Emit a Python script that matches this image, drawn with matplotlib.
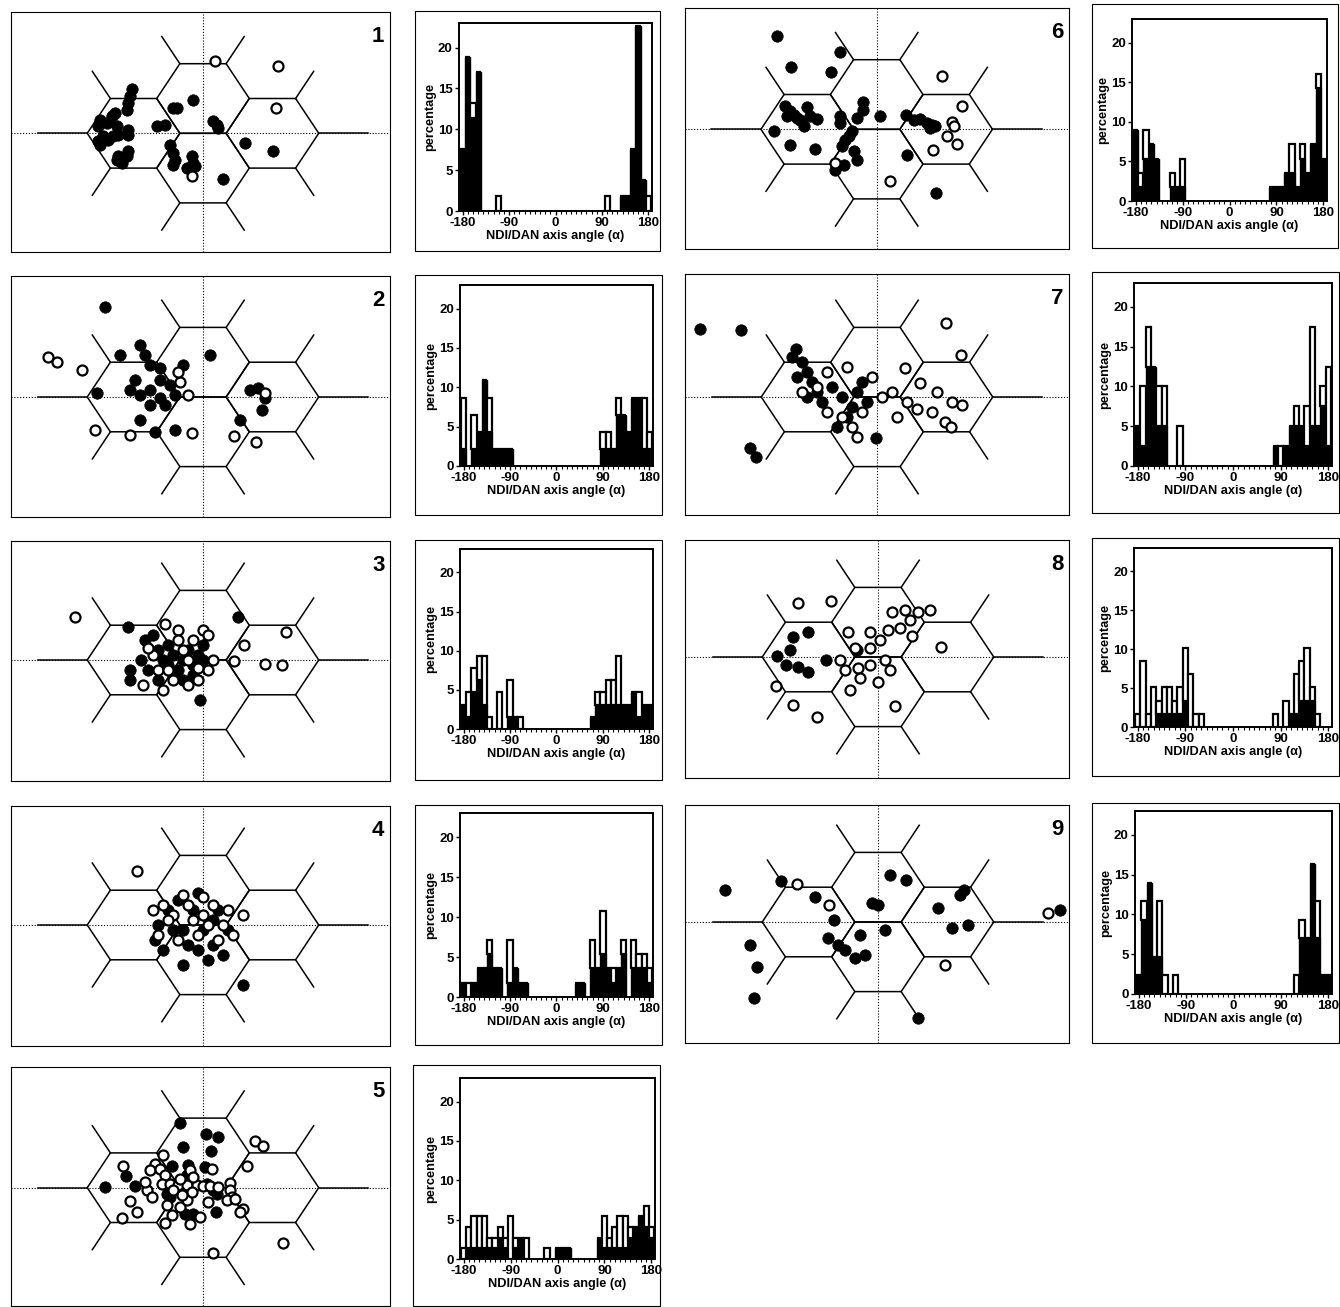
import matplotlib
matplotlib.use('Agg')
import matplotlib.pyplot as plt
from matplotlib.patches import Rectangle, Polygon
import numpy as np

plt.rcParams['font.family'] = ['Liberation Sans', 'DejaVu Sans']

# ---------------- DATA ----------------
# scatter maps: positions relative to the hexagon-cluster centre (map units, y up)
p1_filled = [(-71,44),(-73,37),(-75,30),(-76,23),(-88,20),(-91,17),(-103,13),(-105,7),(-96,10),(-86,7),
             (-75,3),(-75,-2),(-85,-2),(-90,-3),(-100,-3),(-105,-8),(-103,-12),(-95,-7),(-75,-18),(-76,-23),
             (-85,-23),(-86,-27),(-81,-30),(-10,33),(-30,25),(-26,25),(-46,7),(-38,8),(10,12),(14,8),(15,5),
             (-33,-12),(-30,-20),(-28,-27),(-30,-32),(-16,-35),(-11,-23),(-10,-30),(-8,-33),(20,-46),(42,-10),(70,-18)]
p1_open = [(12,72),(75,67),(73,25),(-11,-43)]

p2_filled = [(-98,90),(-106,4),(-83,42),(-63,52),(-58,42),(-53,32),(-43,29),(-68,17),(-73,7),(-63,2),(-53,7),
             (-43,17),(-33,12),(-28,2),(-38,-8),(-53,-8),(-63,-23),(-48,-35),(-28,-33),(-43,-1),(7,42),(37,-23),
             (47,7),(55,9),(59,-13),(62,-1),(-20,32)]
p2_open = [(-155,40),(-146,35),(-121,27),(-108,-33),(-73,-38),(-23,15),(-15,2),(-11,-36),(31,-39),(53,-45),(62,4),(-25,25)]

p3_filled = [(-75,33),(35,43),(-3,-40),(-73,-10),(-73,-20),(-58,20),(-50,25),(-45,10),(-40,0),(-35,-5),(-30,5),
             (-25,-10),(-20,0),(-15,10),(-10,-5),(-5,5),(0,0),(-20,-20),(-30,-15),(-10,-15),(-45,-20),(0,15),
             (-62,0),(-55,-10),(-35,15)]
p3_open = [(-128,43),(83,28),(62,-4),(79,-5),(31,-1),(41,15),(-38,36),(-25,30),(0,30),(5,25),(-60,-25),(-40,-30),
           (-50,5),(-45,-10),(-30,-20),(-15,-25),(-5,-20),(5,-10),(-15,0),(-25,20),(-10,20),(10,0),(-55,12),
           (-35,-10),(-20,10),(-5,-8)]

p4_filled = [(-40,-25),(-48,-15),(-45,0),(-35,15),(-25,25),(-5,32),(-20,-5),(0,-5),(10,5),(15,15),(-10,15),
             (25,-5),(10,-20),(-5,-25),(-20,-40),(20,-30),(40,-60),(-30,-5),(-15,-20),(5,-35)]
p4_open = [(-66,54),(40,10),(-50,15),(-40,20),(-20,30),(0,28),(10,20),(25,15),(-30,10),(-10,5),(5,0),(20,0),
           (30,-10),(-45,-10),(-25,-15),(-5,-10),(15,-15),(-35,5),(-15,20),(0,10)]

p5_filled = [(-23,65),(3,54),(15,51),(-20,41),(8,37),(-98,1),(-77,12),(-68,2),(-31,22),(-15,23),(2,21),(-36,-6),
             (-33,-9),(4,4),(10,-2),(14,-6),(-18,-26),(-10,-26),(13,-24),(-16,13)]
p5_open = [(52,47),(60,42),(44,22),(-80,22),(-81,-30),(-66,-24),(-73,-13),(-56,-2),(-51,-9),(-40,33),(-48,24),
           (-53,18),(-43,19),(-38,13),(-58,6),(-41,4),(-33,4),(-25,3),(-16,3),(-6,3),(0,2),(7,2),(15,1),(27,5),
           (27,-2),(29,-9),(24,-12),(32,-11),(40,-21),(37,-24),(5,-14),(-36,-17),(-31,-27),(-38,-35),(-23,-19),
           (-16,-12),(-11,-4),(-13,18),(-21,-7),(-3,-29),(-13,-36),(10,-65),(80,-55),(9,19),(-23,9),(-10,11),(-30,-2)]

p6_filled = [(-100,93),(-37,77),(-86,62),(-46,57),(-92,23),(-87,18),(-83,14),(-80,11),(-90,13),(-77,9),(-70,22),
             (-67,13),(-60,10),(-73,3),(-103,-2),(-87,-16),(-62,-20),(-37,13),(-37,6),(-14,27),(-14,19),(-20,11),
             (3,13),(29,14),(37,9),(43,10),(50,6),(55,4),(58,3),(53,1),(-25,-2),(-28,-7),(-32,-11),(-35,-17),
             (-23,-22),(-20,-31),(-42,-41),(-33,-36),(30,-26),(59,-64)]
p6_open = [(65,53),(85,23),(75,7),(77,3),(70,-7),(80,-15),(56,-21),(13,-52),(-42,-34)]

p7_filled = [(-177,68),(-136,67),(-127,-51),(-121,-60),(-81,48),(-1,-41),(-85,40),(-75,35),(-70,25),(-80,20),
             (-65,15),(-60,5),(-70,0),(-55,-5),(-45,10),(-35,0),(-25,-10),(-20,5),(-15,15),(-30,-20),(-40,-30),(-10,-5)]
p7_open = [(69,74),(84,42),(28,29),(43,14),(60,5),(75,-5),(85,-8),(55,-15),(68,-25),(30,-5),(15,5),(-5,20),(5,0),
           (-15,-15),(-25,-30),(-20,-40),(-35,-20),(-50,-15),(-60,10),(-75,5),(-50,25),(-30,30),(20,-20),(40,-12),(74,-30)]

p8_filled = [(-101,1),(-88,7),(-85,20),(-70,25),(-92,-8),(-80,-10),(-70,-15),(-52,-3),(-21,7)]
p8_open = [(-80,54),(-47,56),(-102,-29),(-85,-48),(-61,-60),(17,-49),(63,10),(-30,25),(-8,25),(14,45),(27,47),
           (40,45),(52,47),(32,37),(22,29),(10,27),(34,21),(2,17),(-8,9),(-23,9),(-38,-3),(-33,-13),(-20,-11),
           (-8,-8),(7,-3),(12,-13),(0,-25),(-18,-21),(-28,-33)]

p9_filled = [(-153,32),(-97,41),(-63,25),(-44,2),(-18,-13),(12,47),(28,42),(60,14),(74,-6),(82,27),(86,32),
             (90,-3),(-128,-23),(-121,-45),(-124,-76),(40,-96),(182,12),(-6,19),(0,17),(7,-8),(-13,-33),(-23,-36),
             (-50,-16),(-40,-23),(-33,-28)]
p9_open = [(-81,38),(-49,17),(67,-43),(170,9)]

scatter_filled = [p1_filled, p2_filled, p3_filled, p4_filled, p5_filled, p6_filled, p7_filled, p8_filled, p9_filled]
scatter_open = [p1_open, p2_open, p3_open, p4_open, p5_open, p6_open, p7_open, p8_open, p9_open]

# histograms: NDI/DAN axis angle bins (deg), counts of all cells / of filled cells, % per cell
h1_bins = [-180,-170,-160,-150,-110,100,130,140,150,160,170,180]
h1_total = [4,10,7,9,1,1,1,1,4,12,2,1]
h1_black = [4,10,6,9,0,0,1,1,4,12,2,0]
h1_unit = 100/53

h2_bins = [-180,-160,-150,-140,-130,-120,-110,-100,-90,90,100,110,120,130,140,150,160,170,180]
h2_total = [4,3,2,5,4,1,1,1,1,2,2,1,4,3,2,4,4,4,2]
h2_black = [1,1,2,5,2,1,1,1,1,1,1,1,3,3,2,4,4,1,1]
h2_unit = 100/46

h3_bins = [-180,-170,-160,-150,-140,-130,-110,-90,-80,-70,70,80,90,100,110,120,130,140,150,160,170,180]
h3_total = [2,3,5,6,6,1,3,4,1,1,1,3,3,4,4,6,2,2,3,3,2,2]
h3_black = [2,1,3,4,2,0,0,1,1,0,1,2,2,2,2,2,2,2,3,1,2,2]
h3_unit = 100/64

h4_bins = [-180,-170,-160,-150,-140,-130,-120,-110,-90,-80,-70,-60,40,50,70,80,90,100,110,120,130,150,160,170,180]
h4_total = [1,1,1,2,2,4,2,2,4,2,1,1,1,1,4,2,6,2,2,2,4,4,3,3,2]
h4_black = [1,0,1,2,2,3,2,2,1,2,1,1,1,1,2,2,3,2,1,2,3,2,2,2,1]
h4_unit = 100/56

h5_bins = [-180,-170,-160,-150,-140,-130,-120,-110,-100,-90,-80,-70,-60,-20,0,10,20,80,90,100,110,120,130,140,150,160,170,180]
h5_total = [1,3,4,4,4,2,2,3,2,4,2,2,2,1,1,1,1,2,4,2,3,4,4,3,3,4,5,3]
h5_black = [0,1,1,1,1,1,1,2,1,0,1,2,0,0,1,1,1,2,1,1,1,1,1,2,3,4,3,2]
h5_unit = 100/74

h6_bins = [-180,-170,-160,-150,-140,-110,-100,-90,80,90,100,110,120,130,140,150,160,170,180]
h6_total = [5,2,5,4,3,2,1,3,1,1,1,2,4,1,4,2,4,9,3]
h6_black = [5,1,3,4,3,1,1,1,1,1,1,2,2,1,3,2,4,8,3]
h6_unit = 100/56

h7_bins = [-180,-170,-160,-150,-140,-130,-100,80,90,100,110,120,130,140,150,160,170,180]
h7_total = [2,4,7,5,4,4,2,1,1,1,2,3,2,3,7,2,4,5]
h7_black = [2,1,5,5,2,2,0,1,0,1,2,2,2,1,2,2,3,1]
h7_unit = 100/40

h8_bins = [-180,-170,-160,-150,-140,-130,-120,-110,-100,-90,-80,-70,-60,80,100,110,120,130,140,150,160]
h8_total = [1,5,1,3,2,3,3,2,3,6,4,1,1,1,2,1,4,5,6,3,1]
h8_black = [0,0,0,0,1,1,1,1,1,2,0,0,0,0,0,1,1,2,2,2,0]
h8_unit = 100/59

h9_bins = [-180,-170,-160,-150,-140,-130,-110,120,130,140,150,160,170,180]
h9_total = [1,5,6,2,5,1,1,1,4,3,7,5,1,1]
h9_black = [1,4,6,2,2,0,0,0,3,3,7,3,1,1]
h9_unit = 100/43

hist_bins = [h1_bins, h2_bins, h3_bins, h4_bins, h5_bins, h6_bins, h7_bins, h8_bins, h9_bins]
hist_total = [h1_total, h2_total, h3_total, h4_total, h5_total, h6_total, h7_total, h8_total, h9_total]
hist_black = [h1_black, h2_black, h3_black, h4_black, h5_black, h6_black, h7_black, h8_black, h9_black]
hist_unit = [h1_unit, h2_unit, h3_unit, h4_unit, h5_unit, h6_unit, h7_unit, h8_unit, h9_unit]

panel_labels = ['1', '2', '3', '4', '5', '6', '7', '8', '9']
x_tick_vals = [-180, -90, 0, 90, 180]
y_tick_vals = [0, 5, 10, 15, 20]
x_label = 'NDI/DAN axis angle (α)'
y_label = 'percentage'

# ---------------- LAYOUT (pixels of the 1340x1307 canvas) ----------------
W, H = 1340, 1307
scatter_boxes = [(11, 12, 390, 252), (11, 276, 390, 517), (11, 541, 390, 781), (11, 806, 390, 1046),
                 (11, 1067, 390, 1306), (685, 8, 1069, 249), (685, 274, 1069, 515), (685, 540, 1069, 778),
                 (685, 805, 1069, 1043)]
scatter_centres = [(203, 133.3), (203, 397), (203, 660), (203, 925), (203, 1187.7), (876.7, 129.3),
                   (877, 397), (878, 657), (878, 922)]
hist_boxes = [(459, 23, 652, 211), (460, 285, 653, 466), (460, 549, 653, 729), (460, 813, 653, 997),
              (460, 1078, 655, 1259), (1132, 19, 1327, 201), (1134, 283, 1332, 466), (1134, 548, 1332, 727),
              (1135, 811, 1332, 994)]
hist_frames = [(415, 11, 660, 251), (415, 275, 662, 515), (415, 540, 662, 780), (415, 805, 662, 1045),
               (413, 1065, 660, 1306), (1092, 4, 1338, 248), (1092, 272, 1339, 513), (1092, 538, 1339, 776),
               (1092, 803, 1339, 1043)]

fig = plt.figure(figsize=(W / 100, H / 100), dpi=100)
fig.patch.set_facecolor('white')


def fbox(b):
    x0, y0, x1, y1 = b
    return [x0 / W, 1 - y1 / H, (x1 - x0) / W, (y1 - y0) / H]


R, A = 46.3, 34.8  # hexagon circumradius (x) and half-height (y)


def hexagon(cx, cy):
    return [(cx + R, cy), (cx + R / 2, cy + A), (cx - R / 2, cy + A), (cx - R, cy),
            (cx - R / 2, cy - A), (cx + R / 2, cy - A)]


hex_centres = [(0, A), (0, -A), (-1.5 * R, 0), (1.5 * R, 0)]
spokes = [((-R / 2, 2 * A), (-R / 2, A), 0.78), ((R / 2, 2 * A), (R / 2, A), 0.78),
          ((2 * R, A), (R / 2, A), 0.78), ((2.5 * R, 0), (R, 0), 1.07), ((2 * R, -A), (R / 2, -A), 0.78),
          ((R / 2, -2 * A), (R / 2, -A), 0.78), ((-R / 2, -2 * A), (-R / 2, -A), 0.78),
          ((-2 * R, -A), (-R / 2, -A), 0.78), ((-2.5 * R, 0), (-R, 0), 1.07), ((-2 * R, A), (-R / 2, A), 0.78)]

for i in range(9):
    # ---- scatter map ----
    b = scatter_boxes[i]
    cx, cy = scatter_centres[i]
    ax = fig.add_axes(fbox(b))
    ax.set_xlim(b[0] - cx, b[2] - cx)
    ax.set_ylim(cy - b[3], cy - b[1])
    ax.set_xticks([])
    ax.set_yticks([])
    for s in ax.spines.values():
        s.set_linewidth(0.8)
    ax.axhline(0, color='black', lw=0.8, ls=(0, (1, 1.6)), zorder=1)
    ax.axvline(0, color='black', lw=0.8, ls=(0, (1, 1.6)), zorder=1)
    for hc in hex_centres:
        ax.add_patch(Polygon(hexagon(*hc), closed=True, fill=False, ec='black', lw=1.1, zorder=2))
    for (vx, vy), (dx, dy), f in spokes:
        ax.plot([vx, vx + f * dx], [vy, vy + f * dy], color='black', lw=1.1, zorder=2)
    fx = [p[0] for p in scatter_filled[i]]
    fy = [p[1] for p in scatter_filled[i]]
    ox = [p[0] for p in scatter_open[i]]
    oy = [p[1] for p in scatter_open[i]]
    ax.scatter(fx, fy, s=68, c='black', edgecolors='black', linewidths=0.5, zorder=3)
    ax.scatter(ox, oy, s=52, facecolors='white', edgecolors='black', linewidths=1.6, zorder=4)
    ax.text(0.985, 0.94, panel_labels[i], transform=ax.transAxes, ha='right', va='top',
            fontsize=16, fontweight='bold')

    # ---- histogram ----
    fr = hist_frames[i]
    fig.patches.append(Rectangle((fr[0] / W, 1 - fr[3] / H), (fr[2] - fr[0]) / W, (fr[3] - fr[1]) / H,
                                 transform=fig.transFigure, fill=False, ec='black', lw=0.8))
    hx = fig.add_axes(fbox(hist_boxes[i]))
    bins = np.array(hist_bins[i], dtype=float)
    tot = np.array(hist_total[i], dtype=float) * hist_unit[i]
    blk = np.array(hist_black[i], dtype=float) * hist_unit[i]
    wht = np.maximum(tot - blk, 0)
    hx.bar(bins, blk, width=10, color='black', edgecolor='black', lw=1.0, zorder=2)
    hx.bar(bins, wht, bottom=blk, width=10, facecolor='white', edgecolor='black', lw=1.6, zorder=3)
    hx.set_xlim(-187, 187)
    hx.set_ylim(0, 23)
    hx.set_xticks(x_tick_vals)
    hx.set_xticks(np.arange(-180, 181, 10), minor=True)
    hx.set_xticklabels([str(v) for v in x_tick_vals])
    hx.set_yticks(y_tick_vals)
    hx.tick_params(axis='both', which='major', direction='out', length=3, width=1, labelsize=9.5, pad=1.5)
    hx.tick_params(axis='x', which='minor', direction='out', length=2.5, width=0.8)
    for lab in hx.get_xticklabels() + hx.get_yticklabels():
        lab.set_fontweight('bold')
    for s in hx.spines.values():
        s.set_linewidth(1.4)
    hx.set_xlabel(x_label, fontsize=9.2, fontweight='bold', labelpad=0.5)
    hx.set_ylabel(y_label, fontsize=9.2, fontweight='bold', labelpad=1)

fig.savefig('out.png', dpi=100, facecolor='white')
